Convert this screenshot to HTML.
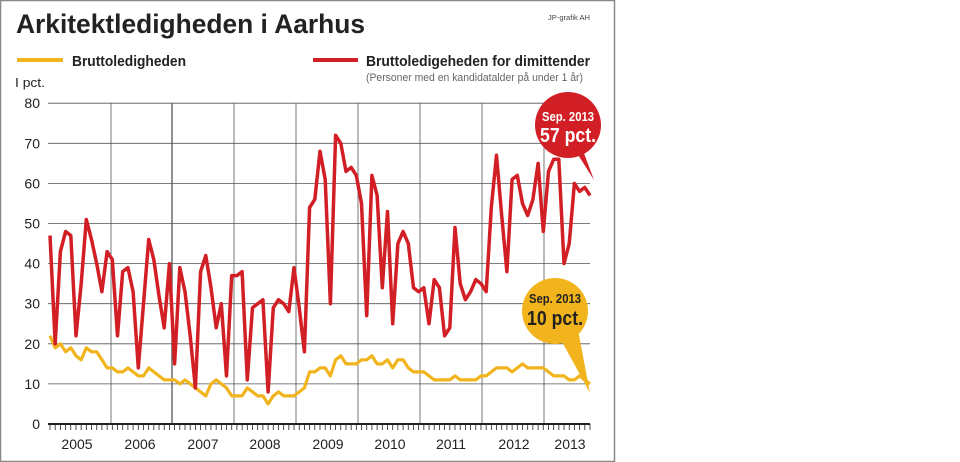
<!DOCTYPE html>
<html><head><meta charset="utf-8"><style>
body{margin:0;background:#fff;}
svg{display:block;font-family:"Liberation Sans",sans-serif;}
</style></head><body>
<svg id="s" width="960" height="462" viewBox="0 0 960 462">
<rect x="0.5" y="0.5" width="614" height="461" fill="#fff" stroke="#888" stroke-width="1.5"/>
<text x="16" y="33" font-size="27" font-weight="bold" fill="#222" textLength="349" lengthAdjust="spacingAndGlyphs">Arkitektledigheden i Aarhus</text>
<text x="548" y="20" font-size="7" fill="#444" textLength="42" lengthAdjust="spacingAndGlyphs">JP-grafik AH</text>
<line x1="17" y1="60" x2="63" y2="60" stroke="#f2b41c" stroke-width="4"/>
<text x="72" y="66" font-size="15" font-weight="bold" fill="#222" textLength="114" lengthAdjust="spacingAndGlyphs">Bruttoledigheden</text>
<line x1="313" y1="60" x2="358" y2="60" stroke="#d21f26" stroke-width="4"/>
<text x="366" y="66" font-size="15" font-weight="bold" fill="#222" textLength="224" lengthAdjust="spacingAndGlyphs">Bruttoledigeheden for dimittender</text>
<text x="366" y="81" font-size="11" fill="#666" textLength="217" lengthAdjust="spacingAndGlyphs">(Personer med en kandidatalder på under 1 år)</text>
<text x="15" y="87" font-size="13" fill="#222" textLength="30" lengthAdjust="spacingAndGlyphs">I pct.</text>
<g id="grid" stroke="#555" stroke-width="0.8"></g>
<g id="lab" font-size="14" fill="#222"></g>
<polyline id="y" fill="none" stroke="#f2b41c" stroke-width="3.2" stroke-linejoin="round"/>
<polyline id="r" fill="none" stroke="#d21f26" stroke-width="3.5" stroke-linejoin="round"/>
<path d="M575,150 L594,180 L582,148 Z" fill="#d21f26"/>
<circle cx="568" cy="125" r="33" fill="#d21f26"/>
<text x="568" y="121" font-size="13" font-weight="bold" fill="#fff" text-anchor="middle" textLength="52" lengthAdjust="spacingAndGlyphs">Sep. 2013</text>
<text x="568" y="142" font-size="20" font-weight="bold" fill="#fff" text-anchor="middle" textLength="56" lengthAdjust="spacingAndGlyphs">57 pct.</text>
<path d="M560,338 L590,393 L578,330 Z" fill="#f2b41c"/>
<circle cx="555" cy="311" r="33" fill="#f2b41c"/>
<text x="555" y="303" font-size="13" font-weight="bold" fill="#222" text-anchor="middle" textLength="52" lengthAdjust="spacingAndGlyphs">Sep. 2013</text>
<text x="555" y="325" font-size="20" font-weight="bold" fill="#222" text-anchor="middle" textLength="56" lengthAdjust="spacingAndGlyphs">10 pct.</text>
</svg>
<script>
var red=[47,20,43,48,47,22,35,51,46,40,33,43,41,22,38,39,33,14,30,46,41,32,24,40,15,39,33,22,9,38,42,34,24,30,12,37,37,38,11,29,30,31,8,29,31,30,28,39,29,18,54,56,68,61,30,72,70,63,64,62,55,27,62,57,34,53,25,45,48,45,34,33,34,25,36,34,22,24,49,35,31,33,36,35,33,54,67,52,38,61,62,55,52,56,65,48,63,66,66,40,45,60,58,59,57];
var yel=[22,19,20,18,19,17,16,19,18,18,16,14,14,13,13,14,13,12,12,14,13,12,11,11,11,10,11,10,9,8,7,10,11,10,9,7,7,7,9,8,7,7,5,7,8,7,7,7,8,9,13,13,14,14,12,16,17,15,15,15,16,16,17,15,15,16,14,16,16,14,13,13,13,12,11,11,11,11,12,11,11,11,11,12,12,13,14,14,14,13,14,15,14,14,14,14,13,12,12,12,11,11,12,11,10];
function X(i){return 50+i*540/(red.length-1);}function Y(v){return 424-v*4.01;}
function pts(a){return a.map(function(v,i){return X(i).toFixed(1)+","+Y(v).toFixed(1)}).join(" ");}
document.getElementById('r').setAttribute('points',pts(red));
document.getElementById('y').setAttribute('points',pts(yel));
var g=document.getElementById('grid'),l=document.getElementById('lab'),h='',t='';
for(var v=10;v<=80;v+=10){h+='<line x1="48" x2="590" y1="'+Y(v)+'" y2="'+Y(v)+'"/>';t+='<text x="40" y="'+(Y(v)+5)+'" text-anchor="end">'+v+'</text>';}
t+='<text x="40" y="429" text-anchor="end">0</text>';
var gx=[111,172,234,296,358,420,482,544];
gx.forEach(function(x,i){h+='<line x1="'+x+'" x2="'+x+'" y1="103" y2="424" stroke-width="'+(i==1?1.3:0.8)+'"/>';});
h+='<line x1="48" x2="590" y1="424" y2="424" stroke="#222" stroke-width="2"/>';
for(var i=0;i<red.length;i++){h+='<line x1="'+X(i)+'" x2="'+X(i)+'" y1="424" y2="430" stroke="#222"/>';}
var yrs=['2005','2006','2007','2008','2009','2010','2011','2012','2013'],cx=[77,140,203,265,328,390,451,514,570];
yrs.forEach(function(y,i){t+='<text x="'+cx[i]+'" y="449" text-anchor="middle">'+y+'</text>';});
g.innerHTML=h;l.innerHTML=t;
</script>
</body></html>
